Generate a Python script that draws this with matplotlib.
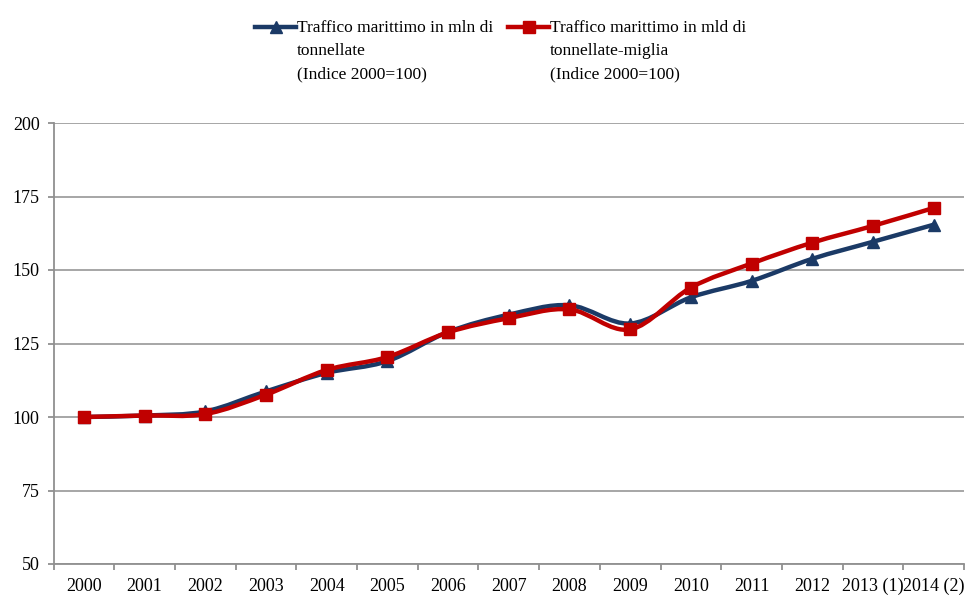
import numpy as np
import matplotlib.pyplot as plt
from matplotlib.path import Path
from matplotlib.patches import PathPatch
from matplotlib.lines import Line2D

plt.rcParams['font.family'] = ['Liberation Serif', 'DejaVu Serif']

years = ['2000', '2001', '2002', '2003', '2004', '2005', '2006', '2007',
         '2008', '2009', '2010', '2011', '2012', '2013 (1)', '2014 (2)']
tonnellate = [100, 100.5, 101.9, 108.7, 115.0, 119.0, 128.9, 134.8,
              138.0, 131.8, 140.7, 146.3, 153.8, 159.6, 165.4]
tonn_miglia = [100, 100.5, 101.0, 107.6, 116.0, 120.4, 128.8, 133.6,
               136.6, 129.8, 144.0, 152.2, 159.3, 165.0, 171.1]
labels = ['Traffico marittimo in mln di\ntonnellate\n(Indice 2000=100)',
          'Traffico marittimo in mld di\ntonnellate-miglia\n(Indice 2000=100)']

blue = '#1B3A66'
red = '#C00000'


def smooth_path(x, y):
    # bezier curve through the points, like the "smoothed line" option in excel
    x = np.asarray(x, float)
    y = np.asarray(y, float)
    verts = [(x[0], y[0])]
    codes = [Path.MOVETO]
    n = len(x)
    for i in range(n - 1):
        x0, y0 = (x[i - 1], y[i - 1]) if i > 0 else (x[i], y[i])
        x3, y3 = (x[i + 2], y[i + 2]) if i + 2 < n else (x[i + 1], y[i + 1])
        c1 = (x[i] + (x[i + 1] - x0) / 6, y[i] + (y[i + 1] - y0) / 6)
        c2 = (x[i + 1] - (x3 - x[i]) / 6, y[i + 1] - (y3 - y[i]) / 6)
        verts += [c1, c2, (x[i + 1], y[i + 1])]
        codes += [Path.CURVE4] * 3
    return Path(verts, codes)


W, H = 965, 598
fig = plt.figure(figsize=(W / 100, H / 100), dpi=100)
ax = fig.add_axes([53.5 / W, 34 / H, (964 - 53.5) / W, (564 - 123) / H])

xs = np.arange(len(years))
series = [(tonnellate, blue, '^'), (tonn_miglia, red, 's')]
for vals, col, mk in series:
    ax.add_patch(PathPatch(smooth_path(xs, vals), fill=False, edgecolor=col,
                           lw=3.2, capstyle='round', joinstyle='round', zorder=3))
    ax.plot(xs, vals, ls='none', marker=mk, ms=9, color=col, zorder=4)

ax.set_xlim(-0.5, len(years) - 0.5)
ax.set_ylim(50, 200)
ax.set_yticks(range(50, 201, 25))
ax.set_xticks(xs)
ax.set_xticklabels(years)
ax.set_xticks(np.arange(-0.5, len(years), 1), minor=True)
ax.tick_params(axis='x', which='major', length=0, labelsize=13, pad=10)
ax.tick_params(axis='x', which='minor', length=4, color='#909090', width=1.3)
ax.tick_params(axis='y', length=4, color='#909090', width=1.3, labelsize=13, pad=6)
ax.grid(axis='y', color='#a6a6a6', lw=1.4)
ax.set_axisbelow(True)
for s in ['top', 'right']:
    ax.spines[s].set_visible(False)
for s in ['left', 'bottom']:
    ax.spines[s].set_color('#909090')
    ax.spines[s].set_linewidth(1.3)

# legend drawn by hand so the handle sits on the first text line
for (vals, col, mk), lab, x0 in zip(series, labels, [255, 508]):
    fig.add_artist(Line2D([x0 / W, (x0 + 41) / W], [1 - 27 / H] * 2, color=col,
                          lw=3.2, transform=fig.transFigure))
    fig.add_artist(Line2D([(x0 + 20.5) / W], [1 - 27 / H], color=col, marker=mk,
                          ms=9, transform=fig.transFigure))
    fig.text((x0 + 42) / W, 1 - 20.5 / H, lab, fontsize=12.5, va='top', ha='left',
             linespacing=1.56)

plt.savefig('out.png', dpi=100)
